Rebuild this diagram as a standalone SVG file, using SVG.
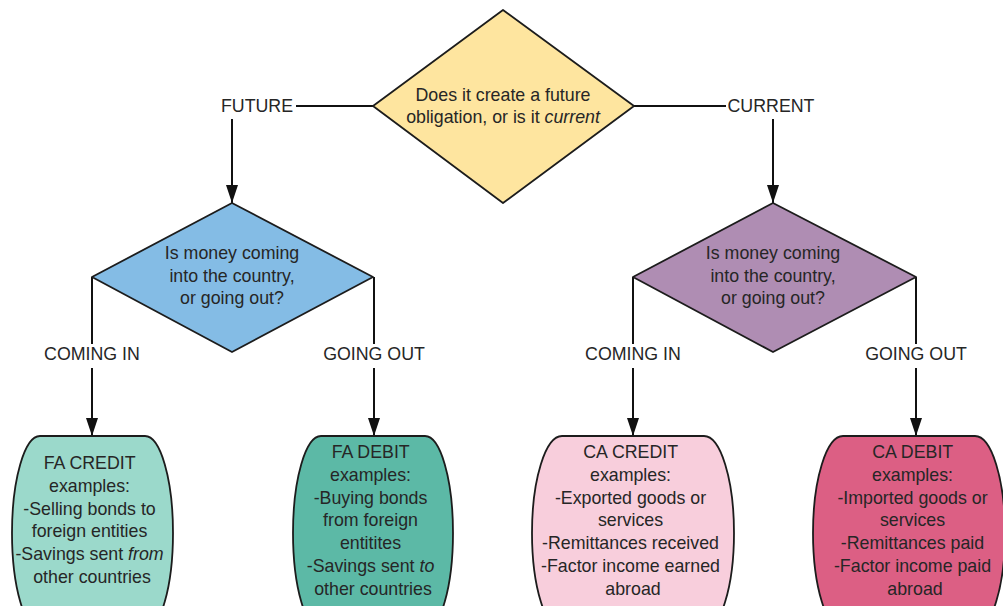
<svg xmlns="http://www.w3.org/2000/svg" width="1003" height="606" viewBox="0 0 1003 606">
  <style>
    text { font-family: "Liberation Sans", Arial, sans-serif; font-size: 17.8px; fill: #262626; text-anchor: middle; }
    .shape { stroke: #1c1c1c; stroke-width: 1.8; stroke-linejoin: round; }
    .wire { stroke: #111; stroke-width: 2; fill: none; }
    .arrow { marker-end: url(#head); }
    .it { font-style: italic; }
  </style>
  <defs>
    <marker id="head" markerUnits="userSpaceOnUse" markerWidth="18" markerHeight="12" refX="18" refY="6" orient="auto" viewBox="0 0 18 12">
      <path d="M0,0 L18,6 L0,12 Z" fill="#111"/>
    </marker>
  </defs>

  <!-- connectors and branch labels -->
  <g id="connectors">
    <line class="wire" x1="373" y1="106" x2="296" y2="106"/>
    <line class="wire arrow" x1="232" y1="119" x2="232" y2="203"/>
    <line class="wire" x1="634" y1="106" x2="726" y2="106"/>
    <line class="wire arrow" x1="773" y1="119" x2="773" y2="203"/>

    <line class="wire" x1="92" y1="277" x2="92" y2="344"/>
    <line class="wire arrow" x1="92" y1="368" x2="92" y2="436"/>
    <line class="wire" x1="374" y1="277" x2="374" y2="344"/>
    <line class="wire arrow" x1="374" y1="368" x2="374" y2="436"/>

    <line class="wire" x1="633" y1="277" x2="633" y2="344"/>
    <line class="wire arrow" x1="633" y1="368" x2="633" y2="436"/>
    <line class="wire" x1="916" y1="277" x2="916" y2="344"/>
    <line class="wire arrow" x1="916" y1="368" x2="916" y2="436"/>

    <text x="257" y="112">FUTURE</text>
    <text x="771" y="112">CURRENT</text>
    <text x="92" y="360">COMING IN</text>
    <text x="374" y="360">GOING OUT</text>
    <text x="633" y="360">COMING IN</text>
    <text x="916" y="360">GOING OUT</text>
  </g>

  <!-- decision: future obligation or current -->
  <g id="q-obligation">
    <polygon class="shape" points="503,10 634,106 503,203 373,106" fill="#FEE59F"/>
    <text x="503" y="101">Does it create a future</text>
    <text x="503" y="123">obligation, or is it <tspan class="it">current</tspan></text>
  </g>

  <!-- decision: financial account direction -->
  <g id="q-fa-direction">
    <polygon class="shape" points="232,203 373,277 232,352 92,277" fill="#84BCE5"/>
    <text x="232" y="259">Is money coming</text>
    <text x="232" y="282">into the country,</text>
    <text x="232" y="304">or going out?</text>
  </g>

  <!-- decision: current account direction -->
  <g id="q-ca-direction">
    <polygon class="shape" points="773,203 916,277 773,352 633,277" fill="#AF8DB3"/>
    <text x="773" y="259">Is money coming</text>
    <text x="773" y="282">into the country,</text>
    <text x="773" y="304">or going out?</text>
  </g>

  <!-- outcome: FA credit -->
  <g id="fa-credit">
    <path class="shape" fill="#9BD9CB" d="M40,436 H145 A28,97 0 0 1 145,630 H40 A28,97 0 0 1 40,436 Z"/>
    <text x="92" y="469">FA CREDIT
      <tspan x="92" dy="22.8">examples:</tspan>
      <tspan x="92" dy="22.8">-Selling bonds to</tspan>
      <tspan x="92" dy="22.8">foreign entities</tspan>
      <tspan x="92" dy="22.8">-Savings sent <tspan class="it">from</tspan></tspan>
      <tspan x="92" dy="22.8">other countries</tspan>
    </text>
  </g>

  <!-- outcome: FA debit -->
  <g id="fa-debit">
    <path class="shape" fill="#5CB9A6" d="M321,436 H425 A28,97 0 0 1 425,630 H321 A28,97 0 0 1 321,436 Z"/>
    <text x="373" y="458">FA DEBIT
      <tspan x="373" dy="22.8">examples:</tspan>
      <tspan x="373" dy="22.8">-Buying bonds</tspan>
      <tspan x="373" dy="22.8">from foreign</tspan>
      <tspan x="373" dy="22.8">entitites</tspan>
      <tspan x="373" dy="22.8">-Savings sent <tspan class="it">to</tspan></tspan>
      <tspan x="373" dy="22.8">other countries</tspan>
    </text>
  </g>

  <!-- outcome: CA credit -->
  <g id="ca-credit">
    <path class="shape" fill="#F8CEDC" d="M562,436 H704 A30,97 0 0 1 704,630 H562 A30,97 0 0 1 562,436 Z"/>
    <text x="633" y="458">CA CREDIT
      <tspan x="633" dy="22.8">examples:</tspan>
      <tspan x="633" dy="22.8">-Exported goods or</tspan>
      <tspan x="633" dy="22.8">services</tspan>
      <tspan x="633" dy="22.8">-Remittances received</tspan>
      <tspan x="633" dy="22.8">-Factor income earned</tspan>
      <tspan x="633" dy="22.8">abroad</tspan>
    </text>
  </g>

  <!-- outcome: CA debit -->
  <g id="ca-debit">
    <path class="shape" fill="#DC5F84" d="M843,436 H975 A30,97 0 0 1 975,630 H843 A30,97 0 0 1 843,436 Z"/>
    <text x="915" y="458">CA DEBIT
      <tspan x="915" dy="22.8">examples:</tspan>
      <tspan x="915" dy="22.8">-Imported goods or</tspan>
      <tspan x="915" dy="22.8">services</tspan>
      <tspan x="915" dy="22.8">-Remittances paid</tspan>
      <tspan x="915" dy="22.8">-Factor income paid</tspan>
      <tspan x="915" dy="22.8">abroad</tspan>
    </text>
  </g>
</svg>
